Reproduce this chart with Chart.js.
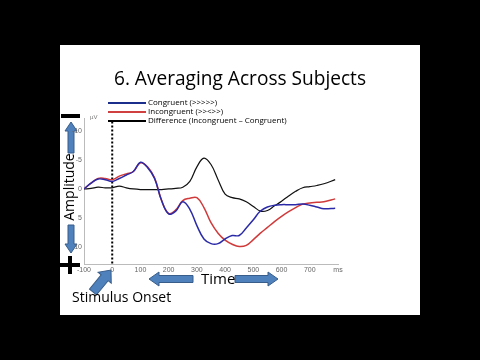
<!DOCTYPE html>
<html>
<head>
<meta charset="utf-8">
<script src="https://cdn.jsdelivr.net/npm/chart.js@4"></script>
<style>
  body { margin: 0; background: #000; width: 480px; height: 360px; overflow: hidden; font-family: "Open Sans", sans-serif; }
  #slide { position: absolute; left: 60px; top: 45px; width: 360px; height: 270px; background: #fff; }
  #chart { position: absolute; left: 0; top: 0; }
  .txt { position: absolute; white-space: nowrap; color: #000; line-height: 1; }
  #title { left: 0; width: 360px; top: 23px; text-align: center; font-size: 20px; transform: scaleX(0.955); }
  .leg { position: absolute; left: 48px; font-size: 8px; white-space: nowrap; line-height: 1; }
  .leg span { display: inline-block; width: 38px; height: 2px; vertical-align: middle; margin-right: 2px; }
  #amp { position: absolute; left: 0; top: 0; width: 80px; height: 16px; font-size: 14px; line-height: 16px; text-align: center;
    transform: translate(-31px, 134px) rotate(-90deg); }
</style>
</head>
<body>
<div id="slide">
  <canvas id="chart" width="360" height="270"></canvas>
  <div class="txt" id="title">6. Averaging Across Subjects</div>
  <div class="leg" style="top:53px"><span style="background:#1c2e8c"></span>Congruent (&gt;&gt;&gt;&gt;&gt;)</div>
  <div class="leg" style="top:62px"><span style="background:#d04040"></span>Incongruent (&gt;&gt;&lt;&gt;&gt;)</div>
  <div class="leg" style="top:71px"><span style="background:#000"></span>Difference (Incongruent – Congruent)</div>
  <div class="txt" id="amp">Amplitude</div>
  <div class="txt" style="left:141px; top:226px; font-size:15px;">Time</div>
  <div class="txt" style="left:12px; top:245px; font-size:14px;">Stimulus Onset</div>
</div>
<script>
// time points in ms
var times = [-100, -75, -50, -25, 0, 25, 50, 75, 100, 125, 150, 175, 200, 225, 250, 275, 300, 325, 350,
  375, 400, 425, 450, 475, 500, 525, 550, 575, 600, 625, 650, 675, 700, 725, 750, 790]
// amplitude in microvolts (negative plotted up)
var congruent = [0, -1.0, -1.7, -1.6, -1.3, -1.8, -2.4, -3.0, -4.6, -3.7, -1.8, 2.0, 4.3, 3.8, 2.2, 3.5, 6.3, 8.6, 9.4,
  9.4, 8.6, 8.0, 8.0, 6.7, 5.3, 3.8, 3.1, 2.8, 2.7, 2.7, 2.7, 2.6, 2.8, 3.1, 3.4, 3.3]
var incongruent = [0, -1.0, -1.8, -1.8, -1.6, -2.2, -2.6, -3.0, -4.5, -3.8, -1.9, 2.0, 4.2, 3.6, 2.0, 1.6, 1.5, 3.2, 5.8,
  7.6, 8.8, 9.5, 9.9, 9.7, 8.7, 7.6, 6.6, 5.6, 4.7, 3.9, 3.2, 2.6, 2.4, 2.3, 2.2, 1.7]
var difference = [0, -0.1, -0.3, -0.2, -0.2, -0.5, -0.2, 0, 0.1, 0.1, 0.1, 0.1, 0, -0.1, -0.3, -1.3, -3.8, -5.3, -4.2,
  -1.6, 0.9, 1.5, 1.7, 2.2, 3.0, 3.8, 3.7, 2.9, 2.1, 1.2, 0.4, -0.2, -0.4, -0.6, -0.9, -1.6]
var xTicks = [-100, 0, 100, 200, 300, 400, 500, 600, 700, 800]
var yTicks = [-10, -5, 0, 5, 10]
var onsetLine = [-11.6, 12.9]

function pts(vals) {
  return vals.map(function(v, i) { return {x: times[i], y: v} })
}

function blockArrow(ctx, x1, y1, x2, y2, sw, hw, hl) {
  var a = Math.atan2(y2 - y1, x2 - x1)
  var len = Math.hypot(x2 - x1, y2 - y1)
  ctx.save()
  ctx.translate(x1, y1)
  ctx.rotate(a)
  ctx.beginPath()
  ctx.moveTo(0, -sw / 2)
  ctx.lineTo(len - hl, -sw / 2)
  ctx.lineTo(len - hl, -hw / 2)
  ctx.lineTo(len, 0)
  ctx.lineTo(len - hl, hw / 2)
  ctx.lineTo(len - hl, sw / 2)
  ctx.lineTo(0, sw / 2)
  ctx.closePath()
  ctx.fillStyle = '#4f81bd'
  ctx.fill()
  ctx.strokeStyle = '#385d8a'
  ctx.lineWidth = 1
  ctx.stroke()
  ctx.restore()
}

var decorations = {
  id: 'decorations',
  beforeDraw: function(chart) {
    var ctx = chart.ctx
    ctx.save()
    ctx.fillStyle = '#000'
    ctx.fillRect(1, 69, 19, 4)
    ctx.fillRect(0, 218, 20, 4)
    ctx.fillRect(8, 211, 4, 18)
    blockArrow(ctx, 11, 108, 11, 77, 6, 12, 9)
    blockArrow(ctx, 11, 180, 11, 208, 6, 12, 9)
    blockArrow(ctx, 33, 247, 51, 225, 9, 17, 10)
    blockArrow(ctx, 133, 234, 89, 234, 7, 14, 10)
    blockArrow(ctx, 175, 234, 218, 234, 7, 14, 10)
    ctx.fillStyle = '#777'
    ctx.font = '6px "Liberation Sans"'
    ctx.fillText('µV', 30, 74)
    ctx.restore()
  }
}

new Chart(document.getElementById('chart'), {
  type: 'line',
  data: {
    datasets: [
      {data: pts(congruent), borderColor: '#2a2aa8', borderWidth: 1.5, pointRadius: 0, tension: 0.4},
      {data: pts(incongruent), borderColor: '#d03a3a', borderWidth: 1.5, pointRadius: 0, tension: 0.4},
      {data: pts(difference), borderColor: '#111', borderWidth: 1.2, pointRadius: 0, tension: 0.4},
      {data: onsetLine.map(function(v) { return {x: 0, y: v} }), borderColor: '#000', borderWidth: 2,
        borderDash: [2, 2], pointRadius: 0}
    ]
  },
  options: {
    responsive: false,
    animation: false,
    devicePixelRatio: 1,
    layout: {padding: {left: 0, top: 73, right: 82, bottom: 41}},
    plugins: {legend: {display: false}, tooltip: {enabled: false}},
    scales: {
      x: {
        type: 'linear', min: -100, max: 800,
        grid: {display: false, drawTicks: false},
        border: {display: true, color: '#bbb', width: 1},
        afterBuildTicks: function(s) { s.ticks = xTicks.map(function(v) { return {value: v} }) },
        afterFit: function(s) { s.height = 10 },
        ticks: {
          color: '#666', font: {size: 7}, padding: 2, maxRotation: 0, autoSkip: false,
          callback: function(v) { return v == 800 ? 'ms' : String(v) }
        }
      },
      y: {
        type: 'linear', min: -12.2, max: 12.9, reverse: true,
        grid: {display: false, drawTicks: false},
        border: {display: true, color: '#bbb', width: 1},
        afterBuildTicks: function(s) { s.ticks = yTicks.map(function(v) { return {value: v} }) },
        afterFit: function(s) { s.width = 24 },
        ticks: {color: '#666', font: {size: 7}, padding: 2}
      }
    }
  },
  plugins: [decorations]
})
</script>
</body>
</html>
